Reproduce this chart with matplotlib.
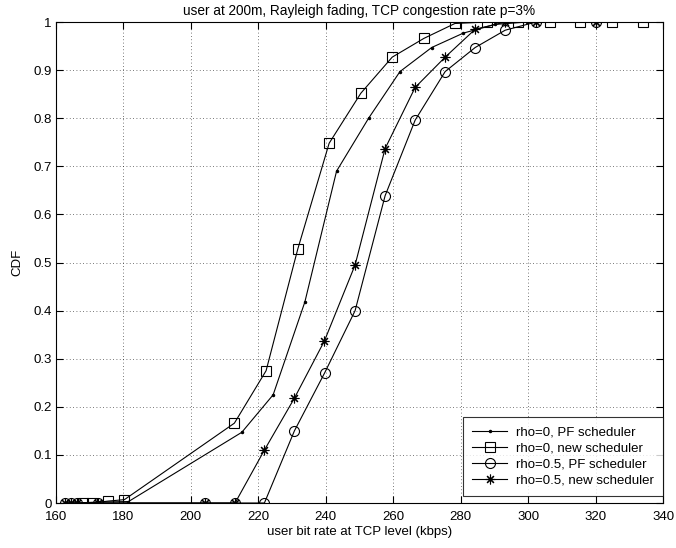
import numpy as np
import matplotlib
matplotlib.use("Agg")
import matplotlib.pyplot as plt

plt.rcParams['font.family'] = ['Liberation Sans', 'DejaVu Sans']
plt.rcParams['font.size'] = 9.5

# rho=0, PF scheduler (dots)
rho0_pf_x = [163.0, 166.1, 172.5, 181.5, 215.1, 224.4, 233.8, 243.2, 252.7, 262.0, 271.4, 280.8, 290.2, 299.6]
rho0_pf_y = [0, 0, 0.002, 0.003, 0.147, 0.225, 0.418, 0.690, 0.800, 0.897, 0.947, 0.977, 0.995, 1.0]

# rho=0, new scheduler (squares)
rho0_new_x = [168.1, 170.6, 175.5, 180.3, 212.9, 222.3, 231.7, 241.0, 250.4, 259.7, 269.1, 278.3,
              287.7, 296.9, 306.5, 315.4, 324.8, 334.2]
rho0_new_y = [0, 0, 0.004, 0.007, 0.166, 0.275, 0.528, 0.748, 0.852, 0.927, 0.966, 0.997,
              1, 1, 1, 1, 1, 1]

# rho=0.5, PF scheduler (circles)
rho05_pf_x = [162.7, 164.4, 166.1, 172.5, 204.1, 213.1, 221.8, 230.7, 239.7, 248.7, 257.6, 266.5,
              275.4, 284.3, 293.2, 302.3, 320.1]
rho05_pf_y = [0, 0, 0, 0, 0, 0, 0, 0.150, 0.271, 0.400, 0.639, 0.796,
              0.897, 0.947, 0.983, 1, 1]

# rho=0.5, new scheduler (asterisks)
rho05_new_x = [162.7, 164.4, 166.1, 172.5, 204.1, 213.1, 221.8, 230.7, 239.6, 248.7, 257.6, 266.5,
               275.4, 284.3, 293.2, 302.3, 320.1]
rho05_new_y = [0, 0, 0, 0, 0, 0, 0.110, 0.218, 0.337, 0.495, 0.737, 0.864,
               0.927, 0.985, 1, 1, 1]

labels = ["rho=0, PF scheduler", "rho=0, new scheduler",
          "rho=0.5, PF scheduler", "rho=0.5, new scheduler"]

fig = plt.figure(figsize=(6.76, 5.48), dpi=100)
ax = fig.add_axes([0.0828, 0.0821, 0.8980, 0.8777])

lw = 0.8
ax.plot(rho0_pf_x, rho0_pf_y, color='k', lw=lw, marker='.', ms=3, label=labels[0])
ax.plot(rho0_new_x, rho0_new_y, color='k', lw=lw, marker='s', ms=6.8, mfc='none',
        mew=0.8, label=labels[1])
ax.plot(rho05_pf_x, rho05_pf_y, color='k', lw=lw, marker='o', ms=7.2, mfc='none',
        mew=0.8, label=labels[2])
ax.plot(rho05_new_x, rho05_new_y, color='k', lw=lw, marker=(8, 2, 0), ms=7,
        mew=0.8, label=labels[3])

ax.set_xlim(160, 340)
ax.set_ylim(0, 1)
ax.set_xticks(np.arange(160, 341, 20))
ax.set_yticks(np.arange(0, 1.01, 0.1))
ax.set_yticklabels(["0", "0.1", "0.2", "0.3", "0.4", "0.5", "0.6", "0.7", "0.8", "0.9", "1"])
ax.tick_params(direction='in', top=True, right=True, length=5, width=0.8)
ax.tick_params(axis='x', pad=6)
ax.tick_params(axis='y', pad=3)
ax.grid(True, linestyle=(0, (1, 3)), linewidth=0.6, color='k', alpha=0.7)
for s in ax.spines.values():
    s.set_linewidth(0.8)

ax.set_title("user at 200m, Rayleigh fading, TCP congestion rate p=3%", pad=5, fontsize=9.8)
ax.set_xlabel("user bit rate at TCP level (kbps)", labelpad=2)
ax.set_ylabel("CDF", labelpad=7)

leg = ax.legend(loc='lower right', bbox_to_anchor=(1.0, 0.0146), frameon=True,
                fancybox=False, borderaxespad=0, handlelength=2.6, borderpad=0.7,
                labelspacing=0.28, handletextpad=0.7)
leg.get_frame().set_edgecolor('k')
leg.get_frame().set_linewidth(0.8)

fig.savefig("out.png", dpi=100)
